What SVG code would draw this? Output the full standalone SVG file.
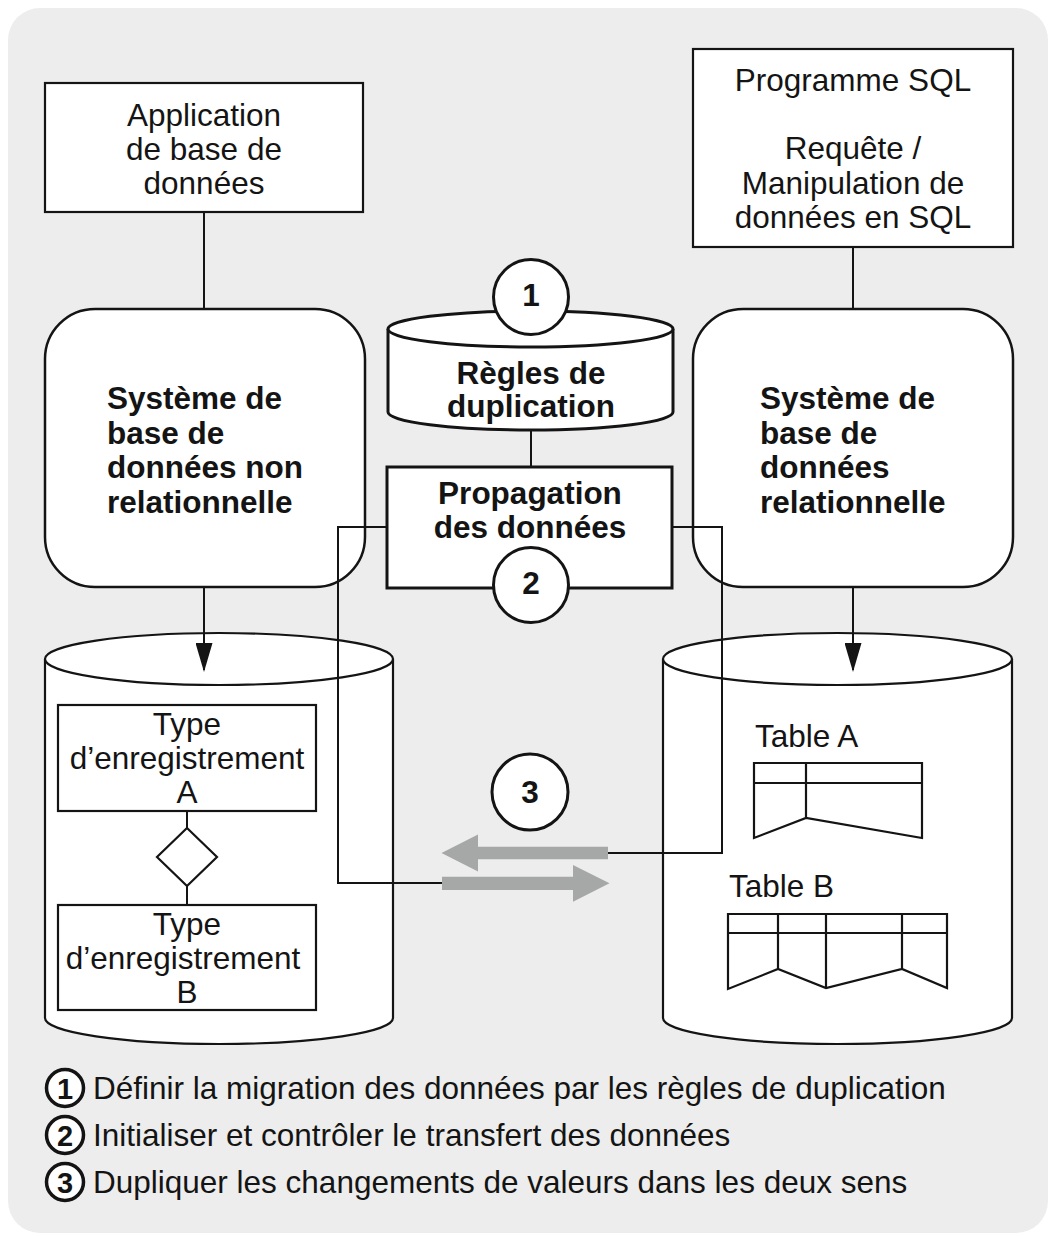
<svg xmlns="http://www.w3.org/2000/svg" width="1051" height="1236" viewBox="0 0 1051 1236">
<defs>
<style>
text{font-family:"Liberation Sans",Arial,sans-serif;font-size:31.5px;fill:#141414}
.c{text-anchor:middle}
.b{font-weight:bold}
.box{fill:#fff;stroke:#141414;stroke-width:2.2}
.thick{fill:#fff;stroke:#141414;stroke-width:3}
.ln{fill:none;stroke:#141414;stroke-width:2}
.tbl{fill:none;stroke:#141414;stroke-width:2.2;stroke-linejoin:miter}
.gray{fill:#a6a7a7}
</style>
<marker id="ah" viewBox="0 0 29 17" refX="27" refY="8.5" markerWidth="29" markerHeight="17" markerUnits="userSpaceOnUse" orient="auto">
<path d="M0,0 L29,8.5 L0,17 Z" fill="#141414"/>
</marker>
</defs>
<rect x="8" y="8" width="1040" height="1225" rx="32" fill="#ecedec"/>

<g id="app">
<rect class="box" x="45" y="83" width="318" height="129"/>
<text class="c" x="204" y="125.5">Application</text>
<text class="c" x="204" y="159.5">de base de</text>
<text class="c" x="204" y="193.5">données</text>
</g>

<g id="sql">
<rect class="box" x="693" y="49" width="320" height="198"/>
<text class="c" x="853" y="90.5">Programme SQL</text>
<text class="c" x="853" y="159">Requête /</text>
<text class="c" x="853" y="193.5">Manipulation de</text>
<text class="c" x="853" y="228">données en SQL</text>
</g>

<g id="nonrel">
<rect x="45" y="309" width="320" height="278" rx="50" fill="#fff" stroke="#141414" stroke-width="2.5"/>
<text class="b" x="107" y="409">Système de</text>
<text class="b" x="107" y="443.5">base de</text>
<text class="b" x="107" y="478">données non</text>
<text class="b" x="107" y="512.5">relationnelle</text>
</g>

<g id="rel">
<rect x="693" y="309" width="320" height="278" rx="50" fill="#fff" stroke="#141414" stroke-width="2.5"/>
<text class="b" x="760" y="409">Système de</text>
<text class="b" x="760" y="443.5">base de</text>
<text class="b" x="760" y="478">données</text>
<text class="b" x="760" y="512.5">relationnelle</text>
</g>

<g id="regles">
<path class="thick" d="M388,329 V412 A142.5,18 0 0 0 673,412 V329"/>
<ellipse class="thick" cx="530.5" cy="329" rx="142.5" ry="18"/>
<text class="c b" x="531" y="384">Règles de</text>
<text class="c b" x="531" y="416.5">duplication</text>
</g>

<g id="propagation">
<rect class="thick" x="387" y="467" width="285" height="121"/>
<text class="c b" x="530" y="504">Propagation</text>
<text class="c b" x="530" y="537.5">des données</text>
</g>

<g id="db-nonrel">
<path class="box" d="M45,659 V1018 A174,26 0 0 0 393,1018 V659"/>
<ellipse class="box" cx="219" cy="659" rx="174" ry="26"/>
</g>
<g id="typeA">
<rect class="box" x="58" y="705" width="258" height="106"/>
<text class="c" x="187" y="735">Type</text>
<text class="c" x="187" y="769">d’enregistrement</text>
<text class="c" x="187" y="803">A</text>
</g>
<g id="relation">
<path class="box" d="M187,828 L217,857 L187,886 L157,857 Z"/>
</g>
<g id="typeB">
<rect class="box" x="58" y="905" width="258" height="105"/>
<text class="c" x="187" y="935">Type</text>
<text class="c" x="183" y="969">d’enregistrement</text>
<text class="c" x="187" y="1003">B</text>
</g>

<g id="db-rel">
<path class="box" d="M663,659 V1018 A174.5,26 0 0 0 1012,1018 V659"/>
<ellipse class="box" cx="837.5" cy="659" rx="174.5" ry="26"/>
</g>
<g id="tableA">
<text x="755" y="747">Table A</text>
<path class="tbl" d="M754,838 V763 H922 V838 L806,818 Z M754,783 H922 M806,763 V818"/>
</g>
<g id="tableB">
<text x="729" y="897">Table B</text>
<path class="tbl" d="M728,989 V914 H947 V988 L902,969 L826,988 L778,969 Z M728,933 H947 M778,914 V969 M826,914 V988 M902,914 V969"/>
</g>

<g id="connectors">
<path class="ln" d="M204,212 V309"/>
<path class="ln" d="M853,247 V309"/>
<path class="ln" d="M531,430 V467"/>
<path class="ln" d="M187,811 V828 M187,886 V905"/>
<path class="ln" d="M204,587 V670" marker-end="url(#ah)"/>
<path class="ln" d="M853,587 V670" marker-end="url(#ah)"/>
<path class="ln" d="M387,527 H338 V883 H442"/>
<path class="ln" d="M672,527 H722 V853 H608"/>
<path class="gray" d="M608,846.7 H478 V834.5 L441.5,853 L478,871.5 V859.3 H608 Z"/>
<path class="gray" d="M442,876.7 H573 V865 L609.5,883.3 L573,901.8 V890 H442 Z"/>
</g>

<g id="badge1">
<circle class="thick" cx="531" cy="297" r="37.5"/>
<text class="c b" x="531" y="306">1</text>
</g>
<g id="badge2">
<circle class="thick" cx="531" cy="585" r="37.5"/>
<text class="c b" x="531" y="594">2</text>
</g>
<g id="badge3">
<circle class="thick" cx="530" cy="792" r="38"/>
<text class="c b" x="530" y="802.5">3</text>
</g>

<g id="legend">
<circle cx="65" cy="1088" r="18.5" fill="#fff" stroke="#141414" stroke-width="3.5"/>
<text class="c b" x="65" y="1098.5" style="font-size:29px">1</text>
<text x="93" y="1099">Définir la migration des données par les règles de duplication</text>
<circle cx="65" cy="1135" r="18.5" fill="#fff" stroke="#141414" stroke-width="3.5"/>
<text class="c b" x="65" y="1145.5" style="font-size:29px">2</text>
<text x="93" y="1146">Initialiser et contrôler le transfert des données</text>
<circle cx="65" cy="1182" r="18.5" fill="#fff" stroke="#141414" stroke-width="3.5"/>
<text class="c b" x="65" y="1192.5" style="font-size:29px">3</text>
<text x="93" y="1193">Dupliquer les changements de valeurs dans les deux sens</text>
</g>
</svg>
